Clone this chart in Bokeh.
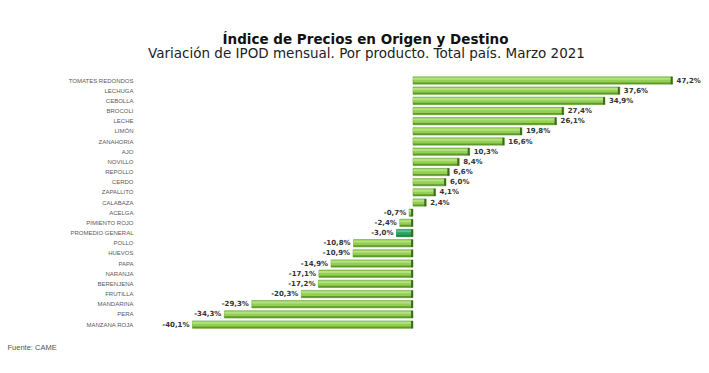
from bokeh.plotting import figure
from bokeh.models import ColumnDataSource, Range1d
from bokeh.core.properties import value
from bokeh.embed import file_html
from bokeh.resources import INLINE

productos = ["TOMATES REDONDOS", "LECHUGA", "CEBOLLA", "BROCOLI", "LECHE", "LIMÓN",
             "ZANAHORIA", "AJO", "NOVILLO", "REPOLLO", "CERDO", "ZAPALLITO", "CALABAZA",
             "ACELGA", "PIMIENTO ROJO", "PROMEDIO GENERAL", "POLLO", "HUEVOS", "PAPA",
             "NARANJA", "BERENJENA", "FRUTILLA", "MANDARINA", "PERA", "MANZANA ROJA"]
variacion = [47.2, 37.6, 34.9, 27.4, 26.1, 19.8, 16.6, 10.3, 8.4, 6.6, 6.0, 4.1, 2.4,
             -0.7, -2.4, -3.0, -10.8, -10.9, -14.9, -17.1, -17.2, -20.3, -29.3, -34.3, -40.1]

titulo = "Índice de Precios en Origen y Destino"
subtitulo = "Variación de IPOD mensual. Por producto. Total país. Marzo 2021"
fuente = "Fuente: CAME"

fila = list(range(len(productos)))
lefts = [min(0, v) for v in variacion]
rights = [max(0, v) for v in variacion]
prom = [c == "PROMEDIO GENERAL" for c in productos]
fill = ["#27a35a" if m else "#93cf53" for m in prom]
line = ["#177a3c" if m else "#6aa33a" for m in prom]
low = ["#178a47" if m else "#5e9930" for m in prom]
hi = ["#5cc489" if m else "#b3e27e" for m in prom]
etiquetas = [("%.1f%%" % v).replace(".", ",") for v in variacion]
align = ["left" if v >= 0 else "right" for v in variacion]
xoff = [4 if v >= 0 else -3 for v in variacion]

src = ColumnDataSource(dict(cat=productos, y=fila, yhi=[f - 0.17 for f in fila],
                            ylo=[f + 0.27 for f in fila], v=variacion, left=lefts,
                            right=rights, capl=[r - 0.35 for r in rights], fill=fill,
                            line=line, low=low, hi=hi, lab=etiquetas, align=align,
                            xoff=xoff))

# pixel-matched ranges: zero at x=412.5px, 5.5 px per %, rows 10.17 px apart
W, H = 705, 365
x0, kx = 412.5, 5.5
y0, ky = 80.0, 10.17
p = figure(width=W, height=H, output_backend="svg", toolbar_location=None,
           x_range=Range1d(-x0 / kx, (W - x0) / kx),
           y_range=Range1d((H - y0) / ky, -y0 / ky),
           min_border=0)

p.hbar(y="y", left="left", right="right", height=0.72, source=src,
       fill_color="fill", line_color="line", line_width=0.6)
p.hbar(y="yhi", left="left", right="right", height=0.2,
       source=src, fill_color="hi", line_color=None)
p.hbar(y="ylo", left="left", right="right", height=0.16,
       source=src, fill_color="low", line_color=None)
p.hbar(y="y", left="capl", right="right", height=0.72, source=src,
       fill_color="#3c6a1f", line_color=None)

# value labels
p.text(x="v", y="y", text="lab", source=src, text_align="align", x_offset="xoff",
       text_baseline="middle", text_font=value("DejaVu Sans"), text_font_style="bold",
       text_font_size="7px", text_color="#333333")

# category labels
p.text(x=(133 - x0) / kx, y="y", text="cat", source=src, text_align="right",
       text_baseline="middle", text_font=value("Liberation Sans"),
       text_font_size="6px", text_color="#5a5a5a")

# titles and source
p.text(x=[(365 - x0) / kx], y=[(38 - y0) / ky], text=[titulo], text_align="center",
       text_baseline="alphabetic", text_font=value("DejaVu Sans"),
       text_font_style="bold", text_font_size="13.5px", text_color="#111111")
p.text(x=[(366 - x0) / kx], y=[(52 - y0) / ky], text=[subtitulo], text_align="center",
       text_baseline="alphabetic", text_font=value("DejaVu Sans"),
       text_font_size="13.5px", text_color="#222222")
p.text(x=[(7 - x0) / kx], y=[(347 - y0) / ky], text=[fuente], text_align="left",
       text_baseline="alphabetic", text_font=value("Liberation Sans"),
       text_font_size="7.5px", text_color="#555555")

p.axis.visible = False
p.grid.visible = False
p.outline_line_color = None

open("out.html", "w").write(file_html(p, INLINE))
